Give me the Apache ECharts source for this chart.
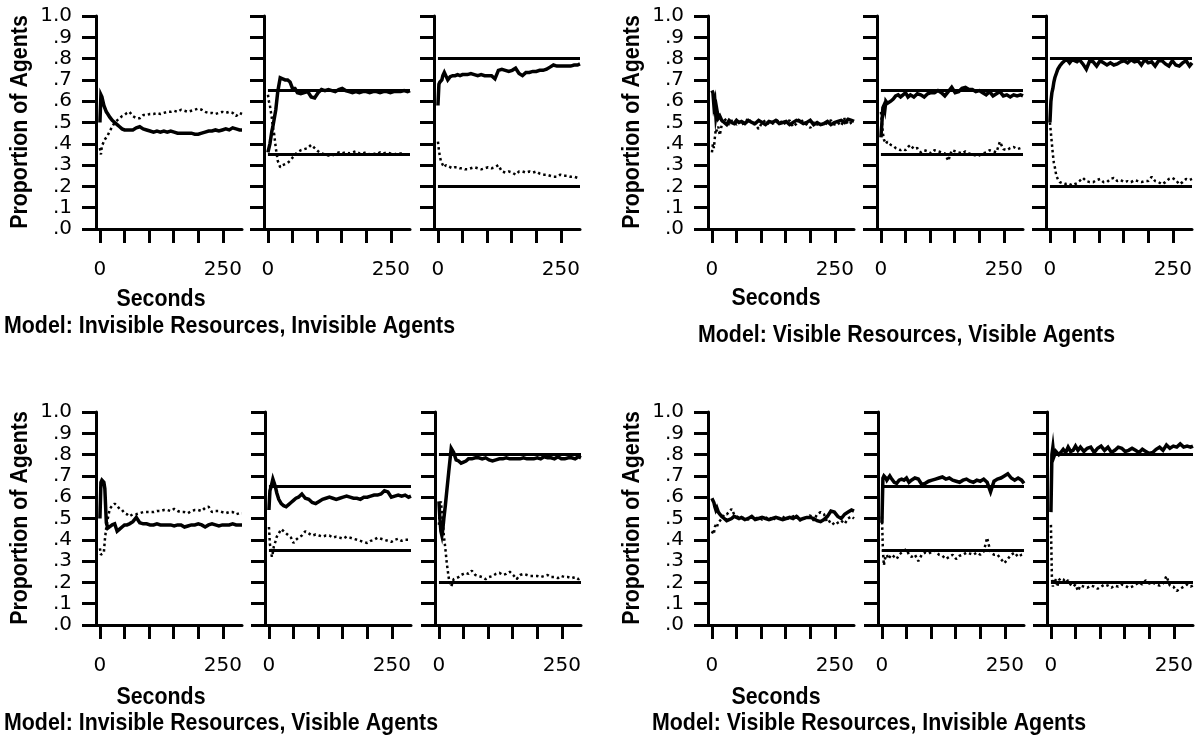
<!DOCTYPE html>
<html><head><meta charset="utf-8">
<script src="https://cdn.jsdelivr.net/npm/echarts@6/dist/echarts.min.js"></script>
<style>html,body{margin:0;padding:0;background:#fff}#c{width:1196px;height:742px}</style>
</head><body><div id="c"></div>
<script>
// ---- data ----
const seconds = [0,2,4,6,8,10,13,16,20,25, 30,35,40,45,50,55,60, 67,74,81,88,95,102,109,116,123,130, 137,144,151,158,165,172,179,186,193,200, 207,214,221,228,235,242,249,256,263,270, 277,284,289];
const yTickLabels = ['.0','.1','.2','.3','.4','.5','.6','.7','.8','.9','1.0'];
const xTickValues = [0,50,100,150,200,250];
const xLabelValues = [0,250];
const referenceLevels = [[], [0.65,0.35], [0.8,0.2]];
const panelTitles = [
  'Model: Invisible Resources, Invisible Agents',
  'Model: Visible Resources, Visible Agents',
  'Model: Invisible Resources, Visible Agents',
  'Model: Visible Resources, Invisible Agents'
];
const xTitle = 'Seconds';
const yTitle = 'Proportion of Agents';

// Panel A: Invisible Resources, Invisible Agents
const a1s = [0.50,0.63,0.62,0.60,0.58,0.575,0.55,0.54,0.525,0.51, 0.50,0.49,0.48,0.47,0.465,0.465,0.465, 0.465,0.475,0.48,0.47,0.465,0.46,0.455,0.46,0.455,0.46, 0.455,0.46,0.455,0.45,0.45,0.45,0.45,0.45,0.445,0.445, 0.45,0.455,0.46,0.46,0.465,0.46,0.465,0.47,0.465,0.475, 0.47,0.465,0.465];
const a1d = [0.38,0.35,0.39,0.40,0.41,0.42,0.43,0.44,0.46,0.48, 0.50,0.51,0.52,0.53,0.535,0.545,0.55, 0.53,0.52,0.52,0.535,0.535,0.54,0.54,0.545,0.54,0.545, 0.55,0.55,0.555,0.55,0.56,0.555,0.55,0.555,0.56,0.565, 0.56,0.55,0.545,0.545,0.54,0.545,0.55,0.545,0.55,0.545, 0.53,0.545,0.54];
const a2s = [0.36,0.38,0.40,0.43,0.46,0.48,0.52,0.56,0.645,0.71, 0.705,0.70,0.70,0.69,0.66,0.66,0.64, 0.635,0.64,0.645,0.62,0.615,0.64,0.655,0.65,0.655,0.65, 0.645,0.655,0.66,0.65,0.645,0.64,0.645,0.64,0.645,0.645, 0.64,0.645,0.645,0.64,0.645,0.645,0.64,0.645,0.645,0.645, 0.65,0.645,0.65];
const a2d = [0.63,0.60,0.58,0.55,0.52,0.48,0.44,0.38,0.32,0.29, 0.30,0.305,0.31,0.32,0.335,0.35,0.36, 0.37,0.375,0.38,0.395,0.38,0.365,0.355,0.35,0.345,0.345, 0.35,0.36,0.355,0.36,0.355,0.36,0.365,0.355,0.355,0.36, 0.35,0.355,0.35,0.36,0.355,0.36,0.355,0.35,0.355,0.355, 0.35,0.35,0.35];
const a3s = [0.58,0.68,0.69,0.69,0.70,0.72,0.735,0.72,0.70,0.715, 0.72,0.72,0.725,0.72,0.725,0.725,0.725, 0.73,0.725,0.72,0.725,0.72,0.72,0.72,0.705,0.745,0.75, 0.745,0.74,0.745,0.755,0.73,0.72,0.735,0.735,0.74,0.74, 0.745,0.745,0.75,0.76,0.77,0.765,0.765,0.765,0.765,0.765, 0.77,0.77,0.775];
const a3d = [0.41,0.37,0.34,0.32,0.31,0.30,0.29,0.30,0.30,0.29, 0.285,0.29,0.29,0.285,0.285,0.28,0.28, 0.285,0.29,0.285,0.28,0.285,0.29,0.285,0.29,0.30,0.27, 0.265,0.27,0.265,0.255,0.27,0.27,0.265,0.27,0.265,0.27, 0.26,0.255,0.255,0.25,0.245,0.245,0.255,0.25,0.25,0.245, 0.245,0.24,0.24];

// Panel B: Visible Resources, Visible Agents
const b1s = [0.65,0.64,0.58,0.60,0.53,0.56,0.52,0.53,0.51,0.50, 0.49,0.51,0.50,0.495,0.51,0.50,0.505, 0.495,0.51,0.50,0.495,0.51,0.50,0.49,0.505,0.50,0.51, 0.495,0.50,0.505,0.49,0.50,0.51,0.505,0.495,0.50,0.51, 0.49,0.50,0.49,0.495,0.505,0.49,0.50,0.505,0.51,0.50, 0.515,0.51,0.505];
const b1d = [0.36,0.40,0.38,0.43,0.47,0.46,0.48,0.44,0.49,0.52, 0.505,0.49,0.51,0.50,0.49,0.505,0.49, 0.50,0.52,0.495,0.49,0.47,0.50,0.51,0.49,0.495,0.50, 0.515,0.49,0.50,0.51,0.48,0.495,0.52,0.50,0.49,0.475, 0.50,0.49,0.50,0.485,0.50,0.51,0.49,0.50,0.485,0.52, 0.49,0.50,0.49];
const b2s = [0.43,0.50,0.57,0.58,0.56,0.60,0.59,0.59,0.60,0.61, 0.625,0.63,0.62,0.63,0.64,0.62,0.63, 0.62,0.635,0.63,0.62,0.635,0.64,0.64,0.65,0.64,0.625, 0.645,0.665,0.64,0.645,0.66,0.665,0.655,0.655,0.645,0.65, 0.64,0.63,0.645,0.625,0.635,0.645,0.625,0.63,0.62,0.63, 0.625,0.63,0.625];
const b2d = [0.55,0.50,0.45,0.42,0.41,0.40,0.41,0.405,0.395,0.39, 0.38,0.375,0.37,0.375,0.37,0.385,0.395, 0.375,0.38,0.36,0.37,0.365,0.355,0.37,0.365,0.36,0.355, 0.32,0.37,0.365,0.36,0.355,0.365,0.355,0.35,0.345,0.345, 0.355,0.36,0.37,0.365,0.36,0.41,0.375,0.37,0.38,0.385, 0.375,0.38,0.38];
const b3s = [0.50,0.60,0.64,0.66,0.69,0.71,0.73,0.75,0.765,0.78, 0.79,0.795,0.78,0.795,0.79,0.785,0.795, 0.775,0.75,0.79,0.785,0.765,0.79,0.78,0.77,0.78,0.77, 0.775,0.785,0.79,0.78,0.795,0.785,0.79,0.77,0.795,0.78, 0.785,0.765,0.79,0.79,0.775,0.765,0.79,0.77,0.765,0.78, 0.79,0.765,0.78];
const b3d = [0.50,0.45,0.40,0.35,0.31,0.29,0.25,0.235,0.22,0.215, 0.21,0.215,0.21,0.205,0.21,0.215,0.225, 0.24,0.225,0.22,0.22,0.23,0.235,0.22,0.22,0.235,0.24, 0.225,0.23,0.22,0.225,0.22,0.23,0.225,0.22,0.225,0.225, 0.245,0.225,0.22,0.21,0.22,0.235,0.24,0.23,0.21,0.22, 0.235,0.23,0.235];

// Panel C: Invisible Resources, Visible Agents
const c1s = [0.50,0.67,0.68,0.68,0.67,0.64,0.48,0.455,0.455,0.47, 0.475,0.44,0.45,0.46,0.47,0.47,0.475, 0.485,0.505,0.48,0.475,0.475,0.47,0.47,0.475,0.47,0.47, 0.47,0.47,0.465,0.47,0.47,0.46,0.465,0.47,0.47,0.475, 0.47,0.46,0.47,0.475,0.47,0.465,0.47,0.47,0.47,0.475, 0.47,0.47,0.47];
const c1d = [0.36,0.33,0.33,0.335,0.34,0.40,0.46,0.50,0.545,0.56, 0.57,0.56,0.545,0.54,0.525,0.52,0.51, 0.52,0.52,0.525,0.53,0.53,0.53,0.53,0.535,0.535,0.54, 0.54,0.535,0.545,0.535,0.53,0.53,0.525,0.535,0.54,0.54, 0.535,0.55,0.555,0.53,0.535,0.535,0.53,0.525,0.53,0.53, 0.52,0.525,0.525];
const c2s = [0.54,0.63,0.645,0.65,0.685,0.68,0.65,0.62,0.59,0.57, 0.56,0.555,0.565,0.575,0.585,0.595,0.60, 0.615,0.595,0.59,0.575,0.57,0.58,0.59,0.595,0.60,0.595, 0.59,0.595,0.60,0.605,0.60,0.595,0.595,0.59,0.60,0.60, 0.605,0.61,0.61,0.615,0.63,0.625,0.60,0.605,0.61,0.605, 0.61,0.60,0.605];
const c2d = [0.46,0.38,0.35,0.32,0.34,0.37,0.39,0.415,0.43,0.45, 0.44,0.43,0.42,0.41,0.385,0.40,0.41, 0.42,0.44,0.43,0.42,0.425,0.42,0.415,0.42,0.42,0.41, 0.415,0.41,0.405,0.415,0.41,0.405,0.40,0.395,0.39,0.385, 0.395,0.40,0.41,0.405,0.40,0.395,0.39,0.40,0.405,0.395, 0.40,0.40,0.40];
const c3s = [0.58,0.50,0.44,0.42,0.45,0.50,0.56,0.63,0.72,0.83, 0.81,0.775,0.77,0.76,0.765,0.77,0.78, 0.78,0.785,0.785,0.78,0.785,0.775,0.77,0.775,0.78,0.78, 0.785,0.78,0.78,0.78,0.78,0.785,0.78,0.78,0.78,0.785, 0.78,0.79,0.785,0.785,0.78,0.79,0.78,0.78,0.785,0.785, 0.78,0.79,0.785];
const c3d = [0.47,0.55,0.58,0.53,0.48,0.42,0.36,0.29,0.22,0.18, 0.215,0.22,0.225,0.235,0.24,0.245,0.24, 0.255,0.235,0.23,0.225,0.215,0.225,0.23,0.24,0.245,0.235, 0.24,0.25,0.235,0.215,0.235,0.24,0.235,0.23,0.23,0.23, 0.225,0.23,0.235,0.225,0.225,0.22,0.23,0.225,0.225,0.22, 0.225,0.215,0.22];

// Panel D: Visible Resources, Invisible Agents
const d1s = [0.595,0.585,0.575,0.555,0.54,0.55,0.53,0.52,0.51,0.50, 0.49,0.495,0.50,0.51,0.505,0.50,0.505, 0.495,0.50,0.51,0.495,0.50,0.505,0.50,0.495,0.50,0.505, 0.50,0.495,0.50,0.505,0.50,0.51,0.495,0.50,0.505,0.505, 0.50,0.49,0.485,0.495,0.51,0.535,0.53,0.51,0.50,0.52, 0.53,0.54,0.535];
const d1d = [0.43,0.44,0.43,0.46,0.47,0.46,0.48,0.485,0.50,0.52, 0.52,0.53,0.545,0.52,0.51,0.505,0.50, 0.505,0.495,0.51,0.50,0.505,0.495,0.50,0.51,0.49,0.505, 0.50,0.51,0.495,0.505,0.51,0.515,0.49,0.50,0.505,0.515, 0.49,0.52,0.53,0.52,0.48,0.49,0.47,0.48,0.49,0.475, 0.50,0.51,0.50];
const d2s = [0.48,0.69,0.70,0.70,0.69,0.68,0.69,0.70,0.685,0.67, 0.665,0.68,0.685,0.68,0.69,0.67,0.68, 0.69,0.685,0.66,0.665,0.675,0.68,0.685,0.69,0.695,0.685, 0.69,0.68,0.675,0.67,0.68,0.685,0.675,0.67,0.68,0.675, 0.685,0.67,0.625,0.675,0.685,0.69,0.70,0.71,0.69,0.68, 0.69,0.68,0.665];
const d2d = [0.51,0.35,0.28,0.31,0.32,0.33,0.31,0.32,0.33,0.32, 0.31,0.33,0.34,0.35,0.355,0.33,0.32, 0.33,0.30,0.33,0.34,0.335,0.345,0.35,0.33,0.325,0.31, 0.32,0.33,0.31,0.325,0.33,0.34,0.335,0.33,0.34,0.33, 0.345,0.41,0.34,0.33,0.33,0.31,0.29,0.31,0.33,0.34, 0.32,0.33,0.335];
const d3s = [0.53,0.80,0.835,0.79,0.785,0.815,0.82,0.80,0.81,0.825, 0.81,0.835,0.815,0.82,0.84,0.82,0.835, 0.815,0.83,0.835,0.81,0.83,0.84,0.82,0.835,0.81,0.82, 0.835,0.83,0.815,0.82,0.83,0.82,0.81,0.825,0.815,0.805, 0.81,0.825,0.835,0.82,0.845,0.83,0.84,0.835,0.85,0.835, 0.84,0.835,0.84];
const d3d = [0.47,0.22,0.18,0.21,0.20,0.215,0.18,0.21,0.22,0.215, 0.20,0.21,0.19,0.18,0.19,0.16,0.185, 0.18,0.175,0.185,0.18,0.17,0.18,0.19,0.185,0.175,0.185, 0.18,0.19,0.185,0.175,0.18,0.19,0.20,0.19,0.21,0.195, 0.20,0.19,0.185,0.195,0.23,0.185,0.18,0.16,0.17,0.18, 0.19,0.18,0.185];

// ---- layout ----
const X_MIN = -8, X_MAX = 289;
const panels = [
  {title: panelTitles[0], solid:[a1s,a2s,a3s], dotted:[a1d,a2d,a3d], lefts:[96,264,434], top:16,
   nameX:20, nameY:122, secX:161, secY:299, modelX:4, modelY:326},
  {title: panelTitles[1], solid:[b1s,b2s,b3s], dotted:[b1d,b2d,b3d], lefts:[708,877,1046], top:16,
   nameX:632, nameY:122, secX:776, secY:298, modelX:698, modelY:335},
  {title: panelTitles[2], solid:[c1s,c2s,c3s], dotted:[c1d,c2d,c3d], lefts:[96,265,435], top:412,
   nameX:20, nameY:518, secX:161, secY:697, modelX:4, modelY:723},
  {title: panelTitles[3], solid:[d1s,d2s,d3s], dotted:[d1d,d2d,d3d], lefts:[708,878,1047], top:412,
   nameX:632, nameY:518, secX:776, secY:697, modelX:652, modelY:723}
];

const grid = [], xAxis = [], yAxis = [], series = [], graphic = [];
const AX = {color:'#000', width:3};
const labelFont = 'DejaVu Sans';
const titleFont = 'bold 24px "Liberation Sans"';
const SX = 0.89;

panels.forEach((p) => {
  p.lefts.forEach((left, k) => {
    const gi = grid.length;
    grid.push({left: left, top: p.top, width: 146, height: 213, containLabel: false});
    xAxis.push({
      gridIndex: gi, type: 'value', min: X_MIN, max: X_MAX,
      axisLine: {show: true, onZero: false, lineStyle: AX},
      axisTick: {show: true, customValues: xTickValues, length: 14, lineStyle: AX},
      axisLabel: {show: true, customValues: xLabelValues, margin: 31, fontSize: 20, fontFamily: labelFont, color: '#000'},
      splitLine: {show: false}
    });
    yAxis.push({
      gridIndex: gi, type: 'value', min: 0, max: 1, interval: 0.1,
      axisLine: {show: true, onZero: false, lineStyle: AX},
      axisTick: {show: true, length: 14, lineStyle: AX},
      axisLabel: {show: k === 0, margin: 24, fontSize: 20, fontFamily: labelFont, color: '#000',
        formatter: (v) => yTickLabels[Math.round(v * 10)]},
      splitLine: {show: false}
    });
    referenceLevels[k].forEach((lv) => {
      series.push({type: 'line', xAxisIndex: gi, yAxisIndex: gi, symbol: 'none', silent: true,
        data: [[0, lv], [X_MAX, lv]], lineStyle: {color: '#000', width: 3}});
    });
    series.push({type: 'line', xAxisIndex: gi, yAxisIndex: gi, symbol: 'none', silent: true,
      data: seconds.map((t, j) => [t, p.dotted[k][j]]),
      lineStyle: {color: '#000', width: 2.5, type: [2.5, 3]}});
    series.push({type: 'line', xAxisIndex: gi, yAxisIndex: gi, symbol: 'none', silent: true,
      data: seconds.map((t, j) => [t, p.solid[k][j]]),
      lineStyle: {color: '#000', width: 3.5, join: 'miter'}});
  });
  graphic.push({type: 'text', x: p.nameX, y: p.nameY, rotation: Math.PI / 2, scaleX: SX, silent: true,
    style: {text: yTitle, font: titleFont, fill: '#000', textAlign: 'center', textVerticalAlign: 'middle', align: 'center', verticalAlign: 'middle'}});
  graphic.push({type: 'text', x: p.secX, y: p.secY, scaleX: SX, silent: true,
    style: {text: xTitle, font: titleFont, fill: '#000', textAlign: 'center', textVerticalAlign: 'middle', align: 'center', verticalAlign: 'middle'}});
  graphic.push({type: 'text', x: p.modelX, y: p.modelY, scaleX: SX, silent: true,
    style: {text: p.title, font: titleFont, fill: '#000', textAlign: 'left', textVerticalAlign: 'middle', align: 'left', verticalAlign: 'middle'}});
});

const chart = echarts.init(document.getElementById('c'), null, {renderer: 'canvas'});
chart.setOption({
  animation: false,
  backgroundColor: '#fff',
  grid, xAxis, yAxis, series, graphic
});
</script>
</body></html>
